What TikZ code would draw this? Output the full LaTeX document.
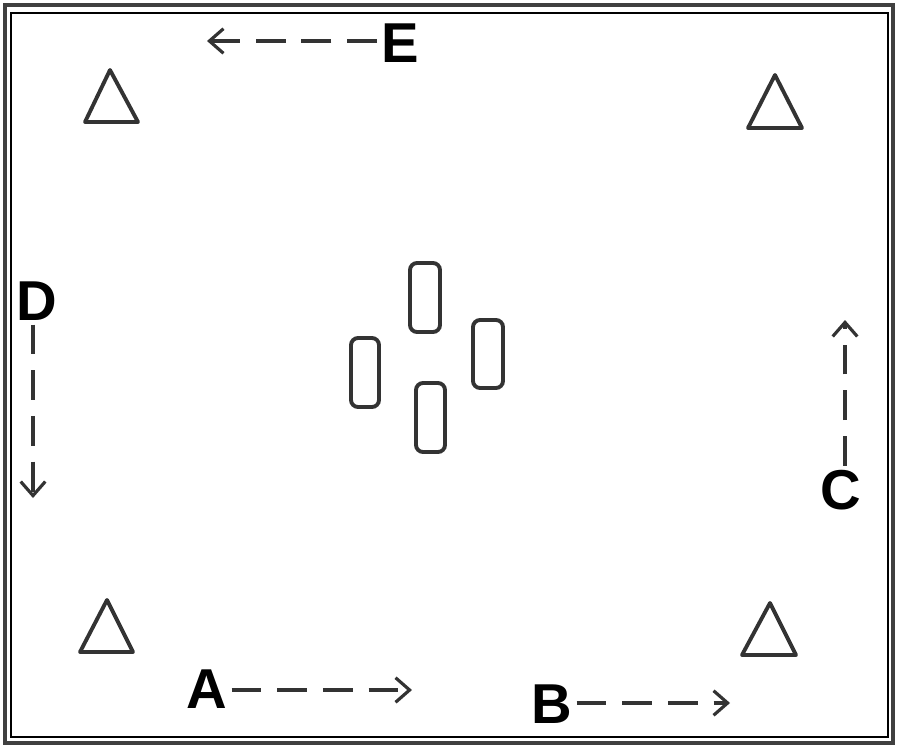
\documentclass[tikz,border=0pt]{standalone}
\usepackage{fontspec}
\setsansfont{Liberation Sans}
\usetikzlibrary{arrows.meta}

\begin{document}
\begin{tikzpicture}[x = 0.1mm, y = -0.1mm,
		frameline/.style = {line width = 1.3pt, black!75},
		cone/.style = {line width = 1.1pt, black!80, line join = round},
		post/.style = {line width = 1.1pt, black!80, rounded corners = 2pt},
		letter/.style = {font = \sffamily\bfseries\fontsize{16}{16}\selectfont, inner sep = 1pt},
		move/.style = {line width = 0.9pt, black!80, dash pattern = on 8.5pt off 4.5pt, -{Straight Barb[length = 4pt, width = 7pt]}}]
					\useasboundingbox (0,0) rectangle (900,750);

					% field border
					\begin{scope}
						\draw [frameline] (5,5) rectangle (893,743);
						\draw [line width = 0.5pt] (11,13) rectangle (888,737);
					\end{scope}

					% corner cones
					\begin{scope}
						\draw [cone] (110,70) -- (138,122) -- (85,122) -- cycle;
						\draw [cone] (775,75) -- (802,128) -- (748,128) -- cycle;
						\draw [cone] (107,600) -- (133,652) -- (80,652) -- cycle;
						\draw [cone] (770,603) -- (796,655) -- (742,655) -- cycle;
					\end{scope}

					% centre posts
					\begin{scope}
						\draw [post] (410,263) rectangle (440,332);
						\draw [post] (351,338) rectangle (379,407);
						\draw [post] (473,320) rectangle (503,388);
						\draw [post] (416,383) rectangle (445,452);
					\end{scope}

					% labels
					\node [letter] (A) at (207,689) {A};
					\node [letter] (B) at (552,704) {B};
					\node [letter] (C) at (841,490) {C};
					\node [letter] (D) at (37,301) {D};
					\node [letter] (E) at (400,43) {E};

					% ends of the runs
					\coordinate (tipA) at (412,690);
					\coordinate (tipB) at (730,703);
					\coordinate (tipC) at (845,320);
					\coordinate (tipD) at (33,498);
					\coordinate (tipE) at (207,41);

					% runs
					\begin{scope}
						\draw [move] (A.east |- tipA) -- (tipA);
						\draw [move] (B.east |- tipB) -- (tipB);
						\draw [move] (C.north -| tipC) -- (tipC);
						\draw [move] (D.south -| tipD) -- (tipD);
						\draw [move] (E.west |- tipE) -- (tipE);
					\end{scope}
				\end{tikzpicture}
\end{document}
